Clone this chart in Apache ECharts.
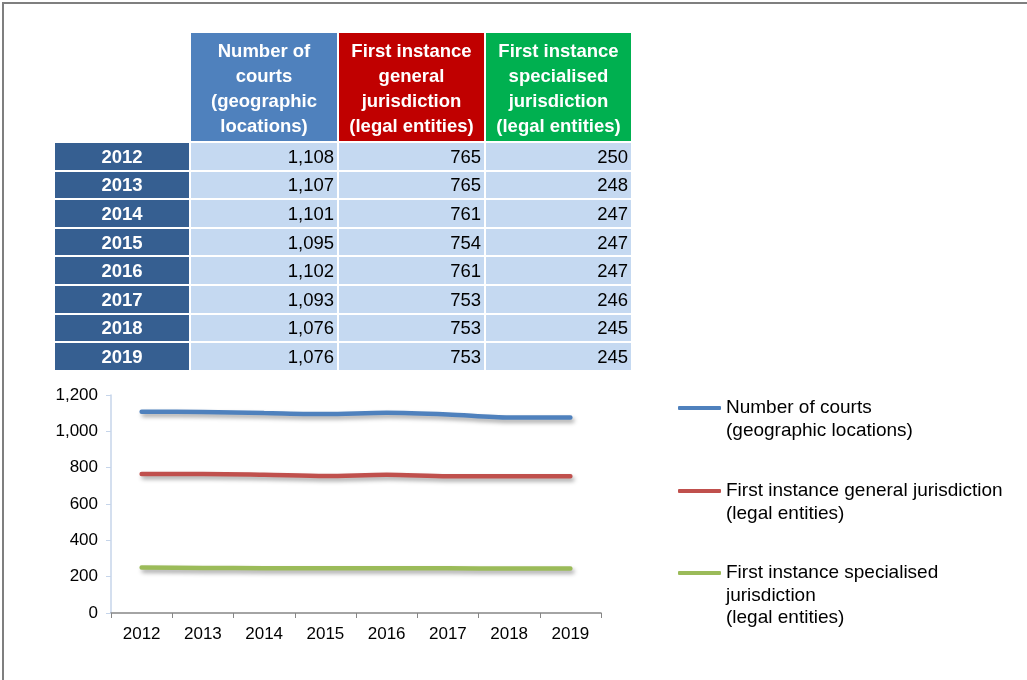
<!DOCTYPE html>
<html>
<head>
<meta charset="utf-8">
<script src="https://cdn.jsdelivr.net/npm/echarts@6/dist/echarts.min.js"></script>
<style>
  html, body { margin: 0; padding: 0; background: #fff; }
  body { width: 1027px; height: 680px; position: relative; overflow: hidden; font-family: Arial, "Liberation Sans", sans-serif; }
  #frame { position: absolute; left: 2px; top: 2px; width: 1030px; height: 690px; border-top: 2px solid #7f7f7f; border-left: 2px solid #7f7f7f; }
  #tbl { position: absolute; left: 53px; top: 31px; border-collapse: separate; border-spacing: 2px; table-layout: fixed; font-size: 18.5px; }
  #tbl th.h { color: #fff; font-weight: bold; height: 108px; line-height: 25px; text-align: center; vertical-align: middle; padding: 2px 0 0 0; box-sizing: border-box; }
  #tbl td { height: 26.6px; padding: 1px 3px 0 0; text-align: right; background: #c5d9f1; color: #000; line-height: 24px; box-sizing: border-box; }
  #tbl td.y { background: #365f91; color: #fff; font-weight: bold; text-align: center; padding: 1px 0 0 0; }
  #chart { position: absolute; left: 0; top: 0; width: 1027px; height: 680px; }
</style>
</head>
<body>
<div id="frame"></div>
<div id="chart"></div>
<table id="tbl"></table>
<script>
// data
var years = ['2012', '2013', '2014', '2015', '2016', '2017', '2018', '2019'];
var courts = [1108, 1107, 1101, 1095, 1102, 1093, 1076, 1076];
var general = [765, 765, 761, 754, 761, 753, 753, 753];
var specialised = [250, 248, 247, 247, 247, 246, 245, 245];
var headers = ['Number of<br>courts<br>(geographic<br>locations)', 'First instance<br>general<br>jurisdiction<br>(legal entities)', 'First instance<br>specialised<br>jurisdiction<br>(legal entities)'];
var names = ['Number of courts\n(geographic locations)', 'First instance general jurisdiction\n(legal entities)', 'First instance specialised\njurisdiction\n(legal entities)'];
var colors = ['#4f81bd', '#c0504d', '#9bbb59'];
var headColors = ['#4f81bd', '#c00000', '#00b050'];
var yTicks = [0, 1200, 200];

function fmt(v) { return v.toLocaleString('en-US'); }

// table
var tbl = document.getElementById('tbl');
var html = '<colgroup><col style="width:134px"><col style="width:146px"><col style="width:145px"><col style="width:145px"></colgroup>';
html += '<tr><th style="background:#fff"></th>';
headers.forEach(function (h, i) { html += '<th class="h" style="background:' + headColors[i] + '">' + h + '</th>'; });
html += '</tr>';
years.forEach(function (y, i) {
  html += '<tr><td class="y">' + y + '</td><td>' + fmt(courts[i]) + '</td><td>' + fmt(general[i]) + '</td><td>' + fmt(specialised[i]) + '</td></tr>';
});
tbl.innerHTML = html;

// chart
var myChart = echarts.init(document.getElementById('chart'));
var series = [courts, general, specialised].map(function (d, i) {
  return {
    name: names[i],
    type: 'line',
    data: d,
    smooth: 0.3,
    symbol: 'none',
    lineStyle: { color: colors[i], width: 4.5, cap: 'round', shadowColor: 'rgba(0,0,0,0.35)', shadowBlur: 4, shadowOffsetX: 2, shadowOffsetY: 3 },
    itemStyle: { color: colors[i] }
  };
});
// icon sits at the middle of the text block, so pad with leading blank lines
var legendTops = [408, 491, 573];
var lh = 22.5;
var legends = names.map(function (n, i) {
  var lines = n.split('\n').length;
  return {
    left: 678,
    top: legendTops[i] - (2 * lines - 1) * lh / 2,
    padding: 0,
    orient: 'vertical',
    data: [n],
    icon: 'roundRect',
    itemWidth: 43,
    itemHeight: 4,
    formatter: function (name) {
      return new Array(lines).join('\n') + name;
    },
    textStyle: { fontSize: 19, color: '#000', fontFamily: 'Arial, Liberation Sans', lineHeight: lh }
  };
});
var option = {
  animation: false,
  textStyle: { fontFamily: 'Arial, Liberation Sans' },
  grid: { left: 111, right: 426, top: 395, bottom: 67, containLabel: false },
  legend: legends,
  xAxis: {
    type: 'category',
    data: years,
    boundaryGap: true,
    axisLine: { lineStyle: { color: '#868686', width: 1.5 } },
    axisTick: { show: true, length: 5, lineStyle: { color: '#868686' } },
    axisLabel: { color: '#000', fontSize: 17, margin: 13 },
    splitLine: { show: false }
  },
  yAxis: {
    type: 'value',
    min: yTicks[0],
    max: yTicks[1],
    interval: yTicks[2],
    axisLine: { show: true, lineStyle: { color: '#c6d5ea', width: 1.5 } },
    axisTick: { show: true, length: 5, lineStyle: { color: '#c6d5ea' } },
    axisLabel: { color: '#000', fontSize: 17, margin: 13, formatter: function (v) { return fmt(v); } },
    splitLine: { show: false }
  },
  series: series
};
myChart.setOption(option, true);
</script>
</body>
</html>
